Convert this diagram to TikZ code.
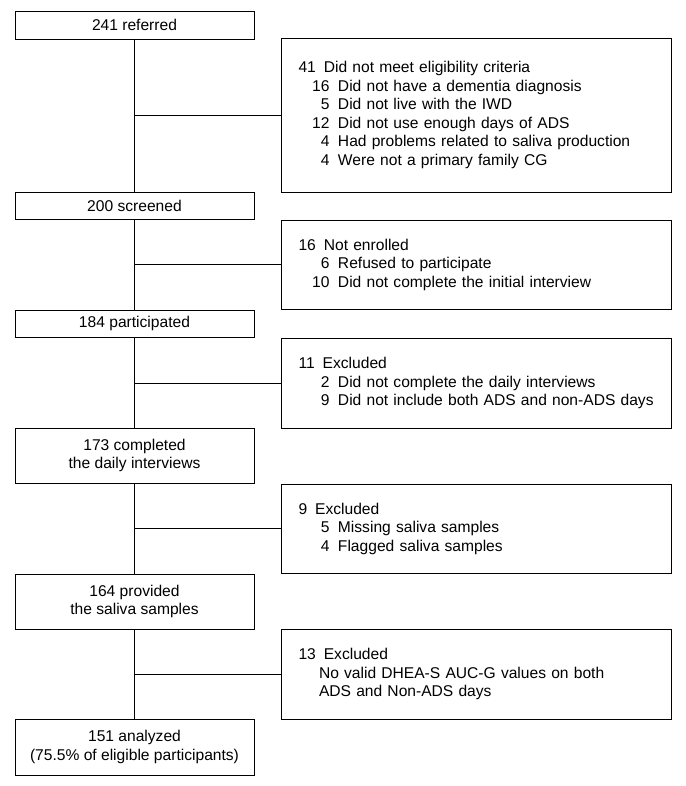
\documentclass[tikz,border=0pt]{standalone}
\usepackage{fontspec}
\setmainfont{Liberation Sans}
\newcommand{\mainl}[2]{\mbox{#1\hspace{8pt}#2}}
\newcommand{\subl}[2]{\mbox{\makebox[31pt][r]{#1}\hspace{8.5pt}#2}}
\newcommand{\subt}[1]{\mbox{\hspace*{20.5pt}#1}}
\begin{document}
\begin{tikzpicture}[x=1pt,y=-1pt,
  every node/.style={font=\fontsize{15.6}{18.5}\selectfont},
  lbox/.style={draw, line width=0.9pt, minimum width=239pt, inner sep=0pt, align=center},
  rbox/.style={draw, line width=0.9pt, text width=355pt, inner xsep=17.5pt, inner ysep=0pt, align=left},
  link/.style={line width=0.9pt}]
\useasboundingbox (0,0) rectangle (685,786);

\node[lbox, minimum height=28pt] (b1) at (134.5,25) {241 referred};
\node[rbox, minimum height=154pt] (e1) at (476,115) {%
\mainl{41}{Did not meet eligibility criteria}\\
\subl{16}{Did not have a dementia diagnosis}\\
\subl{5}{Did not live with the IWD}\\
\subl{12}{Did not use enough days of ADS}\\
\subl{4}{Had problems related to saliva production}\\
\subl{4}{Were not a primary family CG}};

\node[lbox, minimum height=27pt] (b2) at (134.5,205.5) {200 screened};
\node[rbox, minimum height=89pt] (e2) at (476,264.5) {%
\mainl{16}{Not enrolled}\\
\subl{6}{Refused to participate}\\
\subl{10}{Did not complete the initial interview}};

\node[lbox, minimum height=27pt] (b3) at (134.5,323.5) {184 participated};
\node[rbox, minimum height=90pt] (e3) at (476,383) {%
\mainl{11}{Excluded}\\
\subl{2}{Did not complete the daily interviews}\\
\subl{9}{Did not include both ADS and non-ADS days}};

\node[lbox, minimum height=55pt] (b4) at (134.5,455.5) {173 completed\\the daily interviews};
\node[rbox, minimum height=89pt] (e4) at (476,528.5) {%
\mainl{9}{Excluded}\\
\subl{5}{Missing saliva samples}\\
\subl{4}{Flagged saliva samples}};

\node[lbox, minimum height=55pt] (b5) at (134.5,601.5) {164 provided\\the saliva samples};
\node[rbox, minimum height=90pt] (e5) at (476,674) {%
\mainl{13}{Excluded}\\
\subt{No valid DHEA-S AUC-G values on both}\\
\subt{ADS and Non-ADS days}};

\node[lbox, minimum height=56pt] (b6) at (134.5,747) {151 analyzed\\(75.5\% of eligible participants)};

\draw[link] (b1) -- (b2);
\draw[link] (b2) -- (b3);
\draw[link] (b3) -- (b4);
\draw[link] (b4) -- (b5);
\draw[link] (b5) -- (b6);
\draw[link] (b1.south |- e1.west) -- (e1.west);
\draw[link] (b2.south |- e2.west) -- (e2.west);
\draw[link] (b3.south |- e3.west) -- (e3.west);
\draw[link] (b4.south |- e4.west) -- (e4.west);
\draw[link] (b5.south |- e5.west) -- (e5.west);
\end{tikzpicture}
\end{document}
